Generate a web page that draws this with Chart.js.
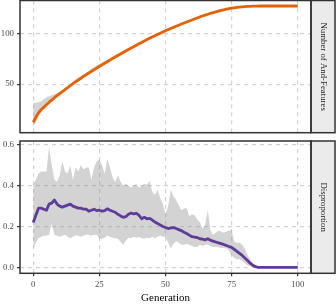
<!DOCTYPE html>
<html>
<head>
<meta charset="utf-8">
<script src="https://cdn.jsdelivr.net/npm/chart.js@4"></script>
<style>
  html, body { margin: 0; padding: 0; background: #fff; }
  #wrap { position: relative; width: 336px; height: 304px; overflow: hidden; }
  canvas { position: absolute; left: 0; }
</style>
</head>
<body>
<div id="wrap">
  <canvas id="andChart" width="336" height="134" style="top:0"></canvas>
  <canvas id="dispChart" width="336" height="166" style="top:138px"></canvas>
</div>
<script>
// tick positions
const genTicks = [0, 25, 50, 75, 100];
const andTicks = [50, 100];
const dispTicks = [0, 0.2, 0.4, 0.6];

// Number of And-Features: mean line and min / max band, one value per generation 0..100
const andMean = [12, 17, 21.5, 24.5, 27, 29.5, 32, 34, 36.5, 38.5,
  40.5, 42.5, 44.5, 46.5, 48.5, 50.5, 52.3, 54.1, 55.9, 57.7,
  59.4, 61.1, 62.8, 64.4, 66, 67.6, 69.2, 70.8, 72.4, 74,
  75.6, 77.1, 78.6, 80.1, 81.6, 83.1, 84.6, 86, 87.4, 88.8,
  90.2, 91.6, 93, 94.4, 95.7, 97, 98.3, 99.6, 100.8, 102,
  103.2, 104.4, 105.5, 106.6, 107.7, 108.8, 109.9, 111, 112, 113,
  114, 115, 116, 117, 117.9, 118.8, 119.7, 120.5, 121.3, 122.1,
  122.8, 123.5, 124.1, 124.7, 125.2, 125.7, 126.1, 126.5, 126.8, 127.1,
  127.3, 127.5, 127.6, 127.7, 127.8, 127.8, 127.9, 127.9, 127.9, 127.9,
  127.9, 127.9, 127.9, 127.9, 127.9, 127.9, 127.9, 127.9, 127.9, 127.9, 127.9];
const andHi = [31.5, 31.5, 32, 33, 35, 37, 38, 39, 40, 41,
  42.5, 44, 46, 48, 50, 52.5, 55, 56.5, 58, 59.5,
  61, 63, 65, 67, 69, 70, 71.5, 73, 74.5, 76,
  77.5, 79, 80.5, 81.5, 83, 84.5, 86, 87.5, 89, 90.5,
  91.5, 93, 94.5, 96, 97.5, 98.5, 99.8, 101, 102, 103,
  104.2, 105.3, 106.3, 107.4, 108.5, 109.5, 110.5, 111.6, 112.6, 113.5,
  114.5, 115.5, 116.4, 117.4, 118.3, 119.1, 120, 120.8, 121.6, 122.3,
  123, 123.7, 124.3, 124.9, 125.4, 125.9, 126.3, 126.7, 127, 127.3,
  127.5, 127.7, 127.8, 127.9, 128, 128, 128, 128, 128, 128,
  128, 128, 128, 128, 128, 128, 128, 128, 128, 128, 128];
const andLo = [7.6, 12, 18, 22.5, 25.5, 28, 30.5, 32.5, 35, 37,
  39, 41, 43, 45, 47, 49, 51, 52.8, 54.6, 56.4,
  58.2, 60, 61.6, 63.2, 64.8, 66.4, 68, 69.6, 71.2, 72.8,
  74.4, 76, 77.5, 79, 80.5, 82, 83.5, 85, 86.4, 87.8,
  89.2, 90.6, 92, 93.4, 94.7, 96, 97.3, 98.6, 99.8, 101,
  102.3, 103.5, 104.7, 105.8, 106.9, 108, 109.1, 110.2, 111.3, 112.3,
  113.3, 114.3, 115.3, 116.3, 117.3, 118.2, 119.1, 120, 120.8, 121.6,
  122.4, 123.1, 123.7, 124.3, 124.8, 125.3, 125.8, 126.2, 126.5, 126.8,
  127, 127.2, 127.4, 127.5, 127.6, 127.7, 127.8, 127.8, 127.8, 127.8,
  127.8, 127.8, 127.8, 127.8, 127.8, 127.8, 127.8, 127.8, 127.8, 127.8, 127.8];

// Disproportion: mean line and min / max band
const dispMean = [0.22, 0.255, 0.29, 0.29, 0.285, 0.28, 0.31, 0.315, 0.33, 0.31,
  0.30, 0.295, 0.30, 0.305, 0.31, 0.30, 0.295, 0.29, 0.29, 0.285,
  0.285, 0.275, 0.28, 0.285, 0.278, 0.28, 0.275, 0.278, 0.287, 0.28,
  0.275, 0.27, 0.26, 0.252, 0.245, 0.248, 0.26, 0.266, 0.262, 0.265,
  0.255, 0.238, 0.245, 0.238, 0.24, 0.232, 0.222, 0.215, 0.208, 0.2,
  0.195, 0.19, 0.193, 0.195, 0.19, 0.185, 0.18, 0.172, 0.166, 0.158,
  0.15, 0.148, 0.146, 0.14, 0.138, 0.135, 0.14, 0.133, 0.128, 0.124,
  0.12, 0.116, 0.112, 0.107, 0.102, 0.097, 0.088, 0.078, 0.068, 0.058,
  0.046, 0.033, 0.02, 0.01, 0.003, 0, 0, 0, 0, 0,
  0, 0, 0, 0, 0, 0, 0, 0, 0, 0, 0];
const dispHi = [0.405, 0.43, 0.46, 0.47, 0.47, 0.47, 0.59, 0.50, 0.43, 0.42,
  0.45, 0.52, 0.47, 0.46, 0.50, 0.43, 0.49, 0.47, 0.50, 0.48,
  0.49, 0.49, 0.43, 0.49, 0.52, 0.53, 0.50, 0.46, 0.53, 0.49,
  0.44, 0.42, 0.45, 0.42, 0.40, 0.41, 0.40, 0.39, 0.40, 0.41,
  0.39, 0.40, 0.41, 0.405, 0.425, 0.37, 0.355, 0.38, 0.34, 0.31,
  0.26, 0.30, 0.38, 0.35, 0.33, 0.306, 0.28, 0.29, 0.29, 0.25,
  0.26, 0.255, 0.235, 0.22, 0.19, 0.21, 0.28, 0.18, 0.16, 0.17,
  0.18, 0.175, 0.17, 0.175, 0.18, 0.18, 0.125, 0.12, 0.12, 0.11,
  0.09, 0.06, 0.04, 0.02, 0.005, 0, 0, 0, 0, 0,
  0, 0, 0, 0, 0, 0, 0, 0, 0, 0, 0];
const dispLo = [0.093, 0.12, 0.143, 0.15, 0.156, 0.155, 0.16, 0.215, 0.16, 0.155,
  0.15, 0.155, 0.16, 0.15, 0.143, 0.15, 0.156, 0.155, 0.15, 0.155,
  0.16, 0.16, 0.155, 0.16, 0.16, 0.143, 0.14, 0.145, 0.156, 0.15,
  0.145, 0.143, 0.14, 0.125, 0.11, 0.13, 0.145, 0.143, 0.15, 0.145,
  0.148, 0.143, 0.14, 0.145, 0.143, 0.15, 0.143, 0.15, 0.155, 0.15,
  0.15, 0.12, 0.093, 0.115, 0.126, 0.12, 0.11, 0.11, 0.115, 0.11,
  0.105, 0.10, 0.10, 0.11, 0.105, 0.11, 0.112, 0.105, 0.1, 0.1,
  0.098, 0.095, 0.095, 0.093, 0.08, 0.06, 0.045, 0.04, 0.04, 0.03,
  0.02, 0.01, 0.005, 0, 0, 0, 0, 0, 0, 0,
  0, 0, 0, 0, 0, 0, 0, 0, 0, 0, 0];

const orange = '#e66101';
const purple = '#5e3c99';
const band = 'rgba(140, 140, 140, 0.38)';
const gridGrey = '#d2d2d2';
const dark = '#333333';

Chart.defaults.font.family = '"Liberation Serif", "Times New Roman", serif';
Chart.defaults.animation = false;

// panel border + facet strip on the right
const panelFrame = {
    id: 'panelFrame',
    afterDraw(chart, args, opts) {
        const ctx = chart.ctx;
        const a = chart.chartArea;
        const h = a.bottom - a.top;
        ctx.save();
        ctx.fillStyle = '#ebebeb';
        ctx.fillRect(a.right, a.top, 24, h);
        ctx.strokeStyle = dark;
        ctx.lineWidth = 1.5;
        ctx.strokeRect(a.left, a.top, a.right - a.left, h);
        ctx.strokeRect(a.right, a.top, 24, h);
        ctx.translate(a.right + 12, a.top + h / 2);
        ctx.rotate(Math.PI / 2);
        ctx.fillStyle = '#1a1a1a';
        ctx.font = '8.8px "Liberation Serif", serif';
        ctx.textAlign = 'center';
        ctx.textBaseline = 'middle';
        ctx.fillText(opts.label, 0, 0);
        ctx.restore();
    }
};

function points(values) {
    return values.map((v, i) => ({ x: i, y: v }));
}

function makePanel(canvasId, mean, hi, lo, color, yMin, yMax, yTicks, stripLabel, showX) {
    new Chart(document.getElementById(canvasId), {
        type: 'line',
        data: {
            datasets: [
                { data: points(mean), borderColor: color, borderWidth: 2.8, pointRadius: 0, tension: 0, fill: false, borderJoinStyle: 'round' },
                { data: points(hi), borderWidth: 0, pointRadius: 0, backgroundColor: band, fill: '+1' },
                { data: points(lo), borderWidth: 0, pointRadius: 0, backgroundColor: band, fill: false }
            ]
        },
        options: {
            responsive: false,
            devicePixelRatio: 1,
            layout: { padding: { top: showX ? 3 : 0.5, right: 25, left: 0, bottom: 0 } },
            plugins: {
                legend: { display: false },
                tooltip: { enabled: false },
                panelFrame: { label: stripLabel }
            },
            scales: {
                x: {
                    type: 'linear',
                    min: -5,
                    max: 105,
                    afterBuildTicks: s => { s.ticks = genTicks.map(v => ({ value: v })); },
                    afterFit: s => {
                        s.height = showX ? 30.7 : 1.3;
                        s.paddingLeft = 0;
                        s.paddingRight = 0;
                    },
                    grid: { color: gridGrey, lineWidth: 1.2, drawTicks: showX, tickLength: 3, tickColor: dark, tickWidth: 1.2 },
                    border: { display: false, dash: [4, 4] },
                    ticks: { display: showX, color: '#4d4d4d', font: { size: 8.8 }, padding: 3, maxRotation: 0 },
                    title: {
                        display: showX,
                        text: 'Generation',
                        color: '#000',
                        font: { size: 11, lineHeight: 1 },
                        padding: { top: 0, bottom: 0 }
                    }
                },
                y: {
                    min: yMin,
                    max: yMax,
                    afterBuildTicks: s => { s.ticks = yTicks.map(v => ({ value: v })); },
                    afterFit: s => {
                        s.width = 20;
                        s.paddingTop = 0;
                        s.paddingBottom = 0;
                    },
                    grid: { color: gridGrey, lineWidth: 1.2, tickLength: 3, tickColor: dark, tickWidth: 1.2 },
                    border: { display: false, dash: [4, 4] },
                    ticks: {
                        color: '#4d4d4d',
                        font: { size: 8.8 },
                        padding: 3,
                        callback: v => showX ? v.toFixed(1) : String(v)
                    }
                }
            }
        },
        plugins: [panelFrame]
    });
}

makePanel('andChart', andMean, andHi, andLo, orange, 1.6, 133.4, andTicks, 'Number of And-Features', false);
makePanel('dispChart', dispMean, dispHi, dispLo, purple, -0.0295, 0.6195, dispTicks, 'Disproportion', true);
</script>
</body>
</html>
